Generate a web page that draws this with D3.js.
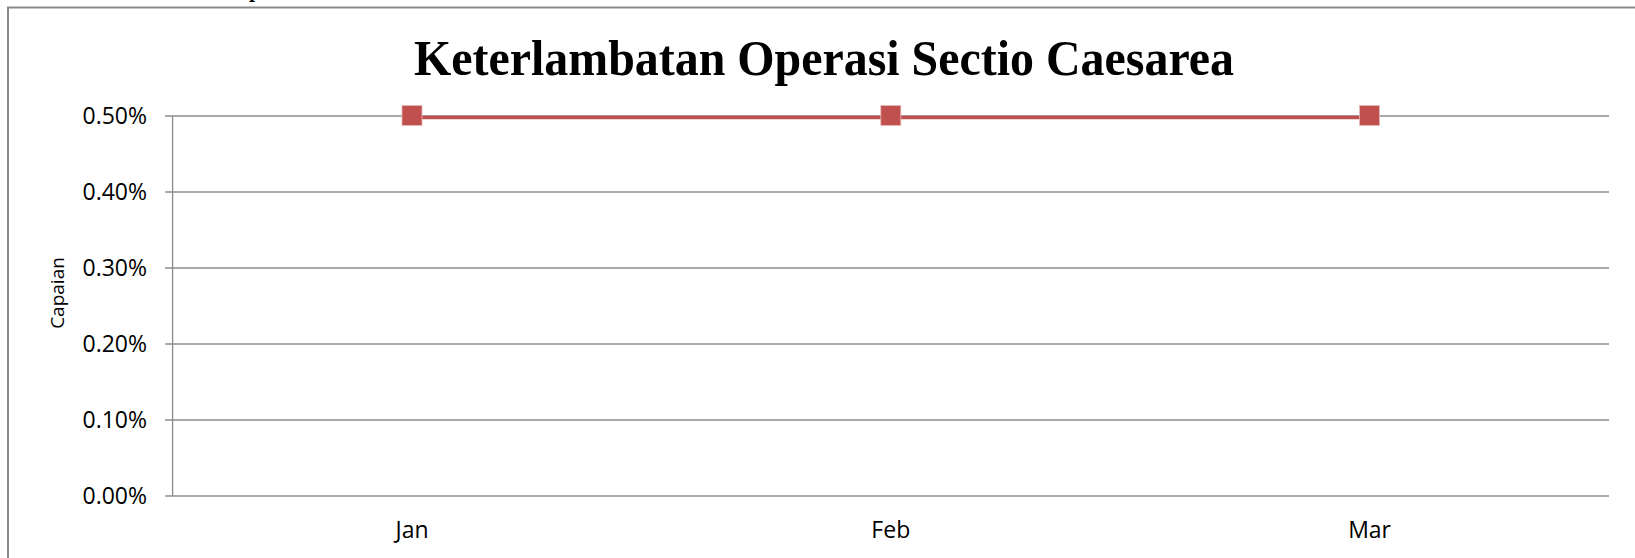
<!DOCTYPE html>
<html><head><meta charset="utf-8">
<script src="https://cdn.jsdelivr.net/npm/d3@7"></script>
<style>body{margin:0;background:#fff;overflow:hidden}</style>
</head><body><svg id="c" width="1635" height="558"></svg>
<script>
const categories = ["Jan", "Feb", "Mar"];
const values = [0.005, 0.005, 0.005];
const yTicks = [0, 0.001, 0.002, 0.003, 0.004, 0.005];
const title = "Keterlambatan Operasi Sectio Caesarea";
const yTitle = "Capaian";

const svg = d3.select("#c");
const L = 172.6, R = 1609, T = 116, B = 496;

// outer frame
svg.append("path").attr("d", "M8,558 L8,7.5 L1635,7.5").attr("fill","none").attr("stroke","#898989").attr("stroke-width",2);
// cut-off text fragment at top (descender of text above the frame)
svg.append("text").attr("x",249).attr("y",-3).attr("font-family","Liberation Serif").attr("font-weight","bold").attr("font-size",22).text("p");

const x = d3.scaleBand().domain(categories).range([L, R]);
const y = d3.scaleLinear().domain([0, 0.005]).range([B, T]);

// gridlines
svg.append("g").selectAll("line").data(yTicks).join("line")
  .attr("x1", L - 7.5).attr("x2", R).attr("y1", d => y(d)).attr("y2", d => y(d))
  .attr("stroke", "#8c8c8c").attr("stroke-width", 1.3);
// y axis line
svg.append("line").attr("x1", L).attr("x2", L).attr("y1", T).attr("y2", B).attr("stroke","#8c8c8c").attr("stroke-width",1.3);

// y labels
svg.append("g").selectAll("text").data(yTicks).join("text")
  .attr("x", 147).attr("y", d => y(d)).attr("dy", "0.35em").attr("text-anchor","end")
  .attr("font-family","Open Sans").attr("font-size",23).attr("fill","#000")
  .text(d => d3.format(".2%")(d));

// x labels
svg.append("g").selectAll("text").data(categories).join("text")
  .attr("x", d => x(d) + x.bandwidth()/2).attr("y", 538).attr("text-anchor","middle")
  .attr("font-family","Open Sans").attr("font-size",23).attr("fill","#000")
  .text(d => d);

// y title
svg.append("text").attr("transform","translate(63.5,293) rotate(-90)").attr("text-anchor","middle")
  .attr("font-family","Open Sans").attr("font-size",19).attr("fill","#000").text(yTitle);

// title
svg.append("text").attr("x", 414).attr("y", 75).attr("textLength", 820).attr("lengthAdjust","spacingAndGlyphs")
  .attr("font-family","Liberation Serif").attr("font-weight","bold").attr("font-size",51).attr("fill","#000").text(title);

// line
const line = d3.line().x((d,i) => x(categories[i]) + x.bandwidth()/2).y(d => y(d) + 1.5);
svg.append("path").datum(values).attr("d", line).attr("fill","none").attr("stroke","#C0504D").attr("stroke-width",3.3);

// markers
svg.append("g").selectAll("rect").data(values).join("rect")
  .attr("x", (d,i) => x(categories[i]) + x.bandwidth()/2 - 10).attr("y", d => y(d) - 10.5)
  .attr("width", 20).attr("height", 20)
  .attr("fill","#C0504D").attr("stroke","#E6B9B8").attr("stroke-width",0.8);
</script></body></html>
